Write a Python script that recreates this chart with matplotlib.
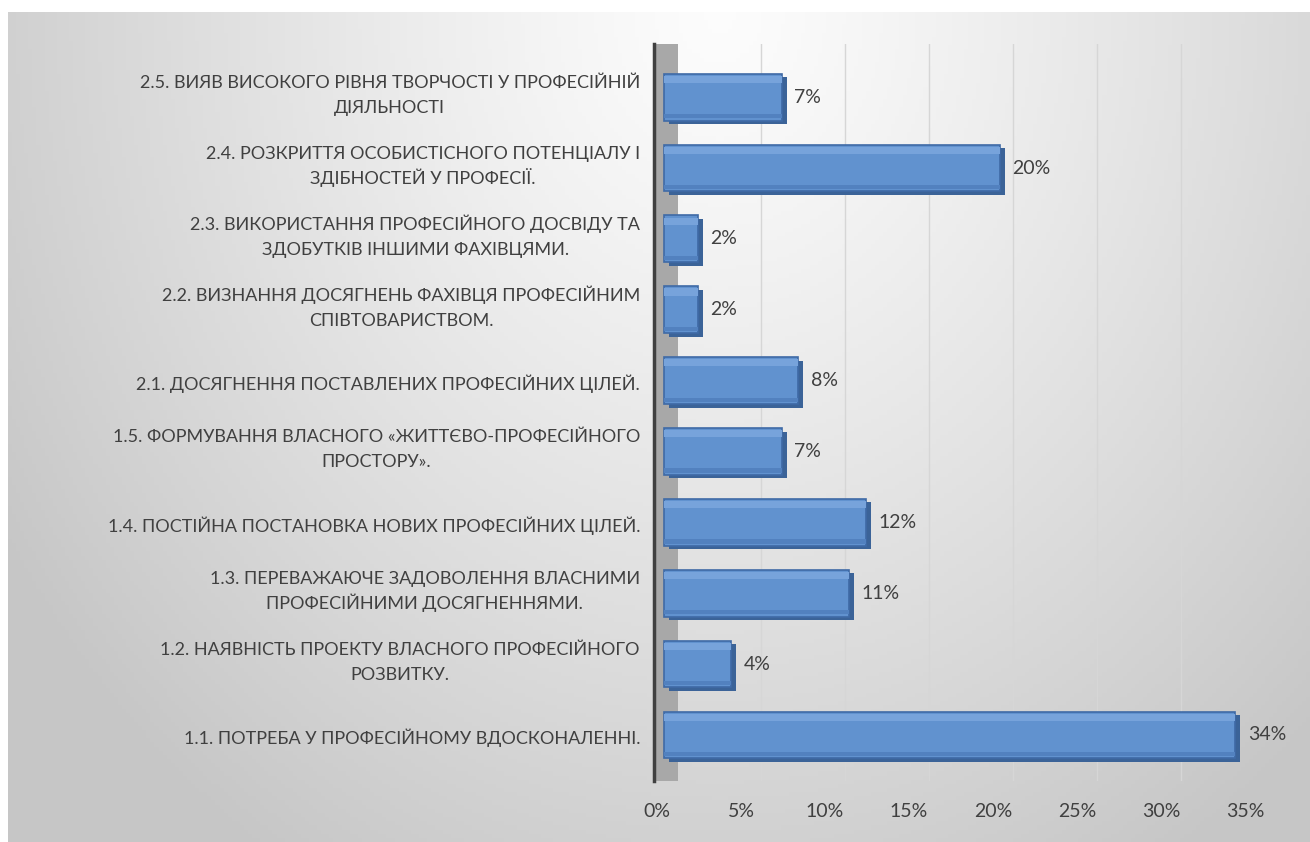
import numpy as np
import matplotlib
matplotlib.use("Agg")
import matplotlib.pyplot as plt
import matplotlib.transforms as mtransforms
from matplotlib.ticker import FuncFormatter

categories = [
    "1.1. ПОТРЕБА У ПРОФЕСІЙНОМУ ВДОСКОНАЛЕННІ.",
    "1.2. НАЯВНІСТЬ ПРОЕКТУ ВЛАСНОГО ПРОФЕСІЙНОГО\nРОЗВИТКУ.",
    "1.3. ПЕРЕВАЖАЮЧЕ ЗАДОВОЛЕННЯ ВЛАСНИМИ\nПРОФЕСІЙНИМИ ДОСЯГНЕННЯМИ.",
    "1.4. ПОСТІЙНА ПОСТАНОВКА НОВИХ ПРОФЕСІЙНИХ ЦІЛЕЙ.",
    "1.5. ФОРМУВАННЯ ВЛАСНОГО «ЖИТТЄВО-ПРОФЕСІЙНОГО\nПРОСТОРУ».",
    "2.1. ДОСЯГНЕННЯ ПОСТАВЛЕНИХ ПРОФЕСІЙНИХ ЦІЛЕЙ.",
    "2.2. ВИЗНАННЯ ДОСЯГНЕНЬ ФАХІВЦЯ ПРОФЕСІЙНИМ\nСПІВТОВАРИСТВОМ.",
    "2.3. ВИКОРИСТАННЯ ПРОФЕСІЙНОГО ДОСВІДУ ТА\nЗДОБУТКІВ ІНШИМИ ФАХІВЦЯМИ.",
    "2.4. РОЗКРИТТЯ ОСОБИСТІСНОГО ПОТЕНЦІАЛУ І\nЗДІБНОСТЕЙ У ПРОФЕСІЇ.",
    "2.5. ВИЯВ ВИСОКОГО РІВНЯ ТВОРЧОСТІ У ПРОФЕСІЙНІЙ\nДІЯЛЬНОСТІ",
]
values = [34, 4, 11, 12, 7, 8, 2, 2, 20, 7]
xticks = [0, 5, 10, 15, 20, 25, 30, 35]

W, H = 1310, 842
fig = plt.figure(figsize=(W / 100, H / 100), dpi=100)
fig.patch.set_facecolor("white")

# background gradient panel
bg = fig.add_axes([8 / W, 0, (W - 8) / W, (H - 12) / H])
bg.set_axis_off()
ny, nx = 200, 320
yy, xx = np.mgrid[0:ny, 0:nx]
px = 8 + xx / (nx - 1) * (W - 8)
py = 12 + yy / (ny - 1) * (H - 12)
d = np.sqrt(((px - 720) / 700) ** 2 + ((py - 12) / 830) ** 2)
val = 0.99 - 0.21 * np.clip(d / 1.2, 0, 1) ** 1.2
img = np.dstack([val, val, val])
bg.imshow(img, aspect="auto", extent=[0, 1, 0, 1], origin="upper")
bg.set_xlim(0, 1)
bg.set_ylim(0, 1)

# main axes
left_px, right_px = 654, 1262
top_px, bot_px = 44, 781
ax = fig.add_axes([left_px / W, 1 - bot_px / H, (right_px - left_px) / W, (bot_px - top_px) / H])
ax.set_facecolor("none")
ax.set_xlim(-0.6, 35.6)
ax.set_ylim(-0.65, 9.75)

y = np.arange(len(categories))

# side wall
ax.axvspan(-0.6, 0.85, color="#a8a8a8", zorder=1, lw=0)
# gridlines
for t in xticks[1:]:
    ax.axvline(t + 0.8, color="#d6d6d6", lw=1.0, zorder=0.5)

# bars: depth, face, highlight
ax.barh(y - 0.05, values, left=0.3, height=0.66, color="#3b6398", lw=0, zorder=2)
ax.barh(y, values, height=0.66, color="#6192cf", edgecolor="#3f6aa6", lw=1.2, zorder=3)
ax.barh(y + 0.25, values, height=0.1, color="#77a3db", lw=0, zorder=4)
ax.barh(y - 0.27, values, height=0.06, color="#5281bf", lw=0, zorder=4)

for yi, v in zip(y, values):
    ax.text(v + 0.75, yi, f"{v}%", va="center", ha="left", fontsize=14,
            color="#404040", family="Lato", zorder=5, clip_on=False)

for s in ["top", "right", "bottom"]:
    ax.spines[s].set_visible(False)
ax.spines["left"].set_color("#404040")
ax.spines["left"].set_linewidth(2.5)
ax.spines["left"].set_zorder(6)

ax.set_xticks(xticks)
ax.xaxis.set_major_formatter(FuncFormatter(lambda v, p: f"{int(v)}%"))
ax.tick_params(axis="x", length=0, pad=16, labelsize=14, labelcolor="#404040")
shift = mtransforms.ScaledTranslation(-7 / 100, 0, fig.dpi_scale_trans)
for t in ax.get_xticklabels():
    t.set_family("Lato")
    t.set_transform(t.get_transform() + shift)

ax.set_yticks(y)
ax.set_yticklabels([])
ax.tick_params(axis="y", length=0)

# category labels: one text per line, centred within the block, right edge fixed
renderer = fig.canvas.get_renderer()
right_edge_px = 640
blend = mtransforms.blended_transform_factory(fig.transFigure, ax.transData)
for yi, cat in zip(y, categories):
    lines = cat.split("\n")
    widths = []
    for ln in lines:
        tt = fig.text(0, 0, ln, fontsize=13, family="Lato")
        widths.append(tt.get_window_extent(renderer).width)
        tt.remove()
    maxw = max(widths)
    cx = (right_edge_px - maxw / 2) / W
    n = len(lines)
    for k, ln in enumerate(lines):
        dy = ((n - 1) / 2 - k) * 25 + (3 if n > 1 else -3) - 6.5
        off = mtransforms.ScaledTranslation(0, dy / 100, fig.dpi_scale_trans)
        fig.text(cx, yi, ln, transform=blend + off, ha="center", va="baseline",
                 fontsize=13, family="Lato", color="#404040")

fig.savefig("out.png", dpi=100)
